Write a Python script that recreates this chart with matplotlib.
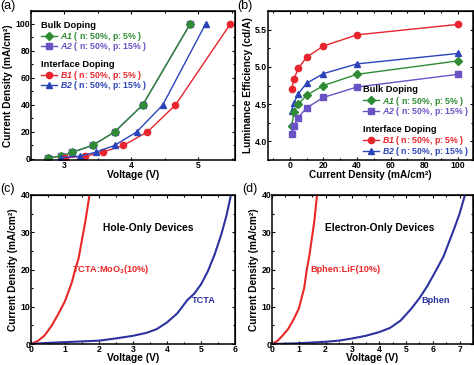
import matplotlib
matplotlib.use("Agg")
import matplotlib.pyplot as plt
from matplotlib.ticker import AutoMinorLocator, FormatStrFormatter

plt.rcParams['font.family'] = ['Liberation Sans', 'DejaVu Sans']
plt.rcParams['font.weight'] = 'bold'
plt.rcParams['mathtext.fontset'] = 'custom'
plt.rcParams['mathtext.rm'] = 'Liberation Sans:bold'
plt.rcParams['mathtext.bf'] = 'Liberation Sans:bold'
plt.rcParams['mathtext.it'] = 'Liberation Sans:italic:bold'
try:
    plt.rcParams['mathtext.bfit'] = 'Liberation Sans:italic:bold'
    BFIT = r'\mathbfit'
except KeyError:
    BFIT = r'\mathit'

# ---------------- data ----------------
# (a) J-V of OLEDs
a1_v = [2.75, 2.95, 3.12, 3.42, 3.75, 4.17, 4.88]
a1_j = [1, 2, 5, 10, 20, 40, 100]
a2_v = [2.75, 2.95, 3.12, 3.42, 3.75, 4.17, 4.88]
a2_j = [1, 2, 5, 10, 20, 40, 100]
b1_v = [3.01, 3.31, 3.57, 3.88, 4.24, 4.66, 5.48]
b1_j = [1, 2, 5, 10, 20, 40, 100]
b2_v = [2.95, 3.23, 3.47, 3.75, 4.08, 4.47, 5.11]
b2_j = [1, 2, 5, 10, 20, 40, 100]

# (b) efficiency vs current density
cd_j = [1, 2.5, 5, 10, 20, 40, 100]
a1_eff = [4.20, 4.40, 4.50, 4.62, 4.75, 4.90, 5.08]
a2_eff = [4.10, 4.20, 4.32, 4.45, 4.59, 4.73, 4.90]
b1_eff = [4.70, 4.84, 4.98, 5.13, 5.28, 5.43, 5.57]
b2_eff = [4.41, 4.52, 4.64, 4.78, 4.91, 5.04, 5.18]

# (c) hole-only devices
tcta_moo3_v = [0, 0.2, 0.4, 0.6, 0.8, 1.0, 1.2, 1.3, 1.4, 1.5, 1.6, 1.72]
tcta_moo3_j = [0, 0.8, 2.3, 4.8, 8.0, 11.5, 16.5, 20.0, 23.0, 28.0, 33.0, 40.0]
tcta_v = [0, 0.5, 1.0, 1.5, 2.0, 2.5, 3.0, 3.4, 3.7, 4.0, 4.3, 4.6, 4.8, 5.0, 5.2, 5.4, 5.6, 5.75, 5.88]
tcta_j = [0, 0.3, 0.5, 0.7, 0.9, 1.5, 2.2, 3.0, 4.0, 5.8, 8.2, 11.8, 13.5, 16.0, 19.5, 24.0, 29.5, 34.5, 40.0]

# (d) electron-only devices
bphen_lif_v = [0, 0.2, 0.4, 0.6, 0.8, 1.0, 1.2, 1.3, 1.4, 1.5, 1.58, 1.68]
bphen_lif_j = [0, 0.8, 2.3, 4.0, 6.5, 9.5, 15.0, 20.0, 24.0, 29.0, 33.0, 40.0]
bphen_v = [0, 1, 2, 2.5, 3, 3.5, 4, 4.4, 4.8, 5.2, 5.5, 5.8, 6.1, 6.4, 6.8, 7.0, 7.2]
bphen_j = [0, 0.2, 0.6, 0.9, 1.5, 2.2, 3.2, 4.3, 6.3, 9.5, 12.3, 15.6, 19.5, 23.5, 31.0, 35.0, 40.0]

labels_a = [r'$' + BFIT + r'{A1}$ ( n: 50%, p: 5% )', r'$' + BFIT + r'{A2}$ ( n: 50%, p: 15% )']
labels_b = [r'$' + BFIT + r'{B1}$ ( n: 50%, p: 5% )', r'$' + BFIT + r'{B2}$ ( n: 50%, p: 15% )']

GREEN = '#2E8B34'
PURPLE = '#6A52C4'
RED = '#E8242C'
BLUE = '#2A44B8'
RED2 = '#E82828'
BLUE2 = '#2C33A0'

W, H = 474, 365
fig = plt.figure(figsize=(W / 100, H / 100), dpi=100)


def add_ax(l, r, t, b):
    return fig.add_axes([l / W, 1 - b / H, (r - l) / W, (b - t) / H])


TICK = 6.2
LAB = 7.3
LEG = 6.3


def style(ax):
    for s in ax.spines.values():
        s.set_linewidth(1.1)
    ax.tick_params(which='both', direction='in', labelsize=TICK, width=0.8, pad=0.6)
    ax.tick_params(which='major', length=2.4)
    ax.tick_params(which='minor', length=1.4)
    ax.xaxis.set_minor_locator(AutoMinorLocator(2))
    ax.yaxis.set_minor_locator(AutoMinorLocator(2))
    for lbl in ax.get_xticklabels() + ax.get_yticklabels():
        lbl.set_fontweight('bold')
    sx = ax.secondary_xaxis('top')
    sx.set_xticks(ax.get_xticks())
    sx.xaxis.set_minor_locator(AutoMinorLocator(2))
    sx.tick_params(which='both', direction='in', labeltop=False, width=0.8)
    sx.tick_params(which='major', length=2.4)
    sx.tick_params(which='minor', length=1.4)
    sy = ax.secondary_yaxis('right')
    sy.set_yticks(ax.get_yticks())
    sy.yaxis.set_minor_locator(AutoMinorLocator(2))
    sy.tick_params(which='both', direction='in', labelright=False, width=0.8)
    sy.tick_params(which='major', length=2.4)
    sy.tick_params(which='minor', length=1.4)


def legends(ax, handles_a, handles_b, anchor1, anchor2):
    kw = dict(frameon=False, fontsize=LEG, labelcolor='linecolor', alignment='left',
              handlelength=1.8, handletextpad=0.3, borderpad=0.0, borderaxespad=0.0,
              labelspacing=-0.3, loc='upper left',
              title_fontproperties={'size': LEG + 0.4, 'weight': 'bold'})
    l1 = ax.legend(handles_a, labels_a, title='Bulk Doping', bbox_to_anchor=anchor1, **kw)
    l1._legend_box.sep = 0
    ax.add_artist(l1)
    l2 = ax.legend(handles_b, labels_b, title='Interface Doping', bbox_to_anchor=anchor2, **kw)
    l2._legend_box.sep = 0
    return l1, l2


# ---------------- (a) ----------------
ax = add_ax(31, 235, 11, 160)
hA2, = ax.plot(a2_v, a2_j, color=PURPLE, marker='s', ms=4, lw=1.0)
hA1, = ax.plot(a1_v, a1_j, color=GREEN, marker='D', ms=3.6, lw=1.0)
hB1, = ax.plot(b1_v, b1_j, color=RED, marker='o', ms=4.5, lw=1.0)
hB2, = ax.plot(b2_v, b2_j, color=BLUE, marker='^', ms=4.5, lw=1.0)
ax.set_xlim(2.5, 5.55)
ax.set_ylim(-0.8, 109.6)
ax.set_xticks([3, 4, 5])
ax.set_yticks([0, 20, 40, 60, 80, 100])
ax.set_xlabel('Voltage (V)', fontsize=LAB, fontweight='bold', labelpad=0)
ax.set_ylabel('Current Density (mA/cm²)', fontsize=LAB, fontweight='bold', labelpad=1.5)
style(ax)
legends(ax, [hA1, hA2], [hB1, hB2], (0.05, 0.935), (0.05, 0.674))

# ---------------- (b) ----------------
ax = add_ax(268, 473, 11, 160)
hB1, = ax.plot(cd_j, b1_eff, color=RED, marker='o', ms=4.5, lw=1.0)
hB2, = ax.plot(cd_j, b2_eff, color=BLUE, marker='^', ms=4.5, lw=1.0)
hA1, = ax.plot(cd_j, a1_eff, color=GREEN, marker='D', ms=3.6, lw=1.0)
hA2, = ax.plot(cd_j, a2_eff, color=PURPLE, marker='s', ms=4, lw=1.0)
ax.set_xlim(-13, 109)
ax.set_ylim(3.75, 5.75)
ax.set_xticks([0, 20, 40, 60, 80, 100])
ax.set_yticks([4.0, 4.5, 5.0, 5.5])
ax.yaxis.set_major_formatter(FormatStrFormatter('%.1f'))
ax.set_xlabel('Current Density (mA/cm²)', fontsize=LAB, fontweight='bold', labelpad=0)
ax.set_ylabel('Luminance Efficiency (cd/A)', fontsize=LAB, fontweight='bold', labelpad=1.5)
style(ax)
legends(ax, [hA1, hA2], [hB1, hB2], (0.465, 0.50), (0.465, 0.232))

# ---------------- (c) ----------------
ax = add_ax(31, 235, 195, 344)
ax.plot(tcta_moo3_v, tcta_moo3_j, color=RED2, lw=1.5)
ax.plot(tcta_v, tcta_j, color=BLUE2, lw=1.5)
ax.set_xlim(0, 6)
ax.set_ylim(0, 40)
ax.set_xticks(range(0, 7))
ax.set_yticks([0, 10, 20, 30, 40])
ax.set_xlabel('Voltage (V)', fontsize=LAB, fontweight='bold', labelpad=-0.5)
ax.set_ylabel('Current Density (mA/cm²)', fontsize=LAB, fontweight='bold', labelpad=1.5)
style(ax)
ax.text(3.45, 31.2, 'Hole-Only Devices', fontsize=7.4, fontweight='bold', ha='center', va='center')
ax.text(1.2, 20, r'TCTA:MoO$_{\mathbf{3}}$(10%)', fontsize=6.6, fontweight='bold', color=RED2, ha='left', va='center')
ax.text(4.73, 11.8, 'TCTA', fontsize=6.6, fontweight='bold', color=BLUE2, ha='left', va='center')

# ---------------- (d) ----------------
ax = add_ax(272, 473, 195, 344)
ax.plot(bphen_lif_v, bphen_lif_j, color=RED2, lw=1.5)
ax.plot(bphen_v, bphen_j, color=BLUE2, lw=1.5)
ax.set_xlim(0, 7.5)
ax.set_ylim(0, 40)
ax.set_xticks(range(0, 8))
ax.set_yticks([0, 10, 20, 30, 40])
ax.set_xlabel('Voltage (V)', fontsize=LAB, fontweight='bold', labelpad=-0.5)
ax.set_ylabel('Current Density (mA/cm²)', fontsize=LAB, fontweight='bold', labelpad=1.5)
style(ax)
ax.text(4.02, 31.2, 'Electron-Only Devices', fontsize=7.4, fontweight='bold', ha='center', va='center')
ax.text(1.43, 20, 'Bphen:LiF(10%)', fontsize=6.6, fontweight='bold', color=RED2, ha='left', va='center')
ax.text(5.59, 11.6, 'Bphen', fontsize=6.6, fontweight='bold', color=BLUE2, ha='left', va='center')

# panel labels
for txt, x, y in [('(a)', 0, 0), ('(b)', 237, 0), ('(c)', 0, 183), ('(d)', 242, 183)]:
    fig.text(x / W, 1 - y / H, txt, fontsize=9, fontweight='normal', ha='left', va='top')

fig.savefig('out.png', dpi=100)
